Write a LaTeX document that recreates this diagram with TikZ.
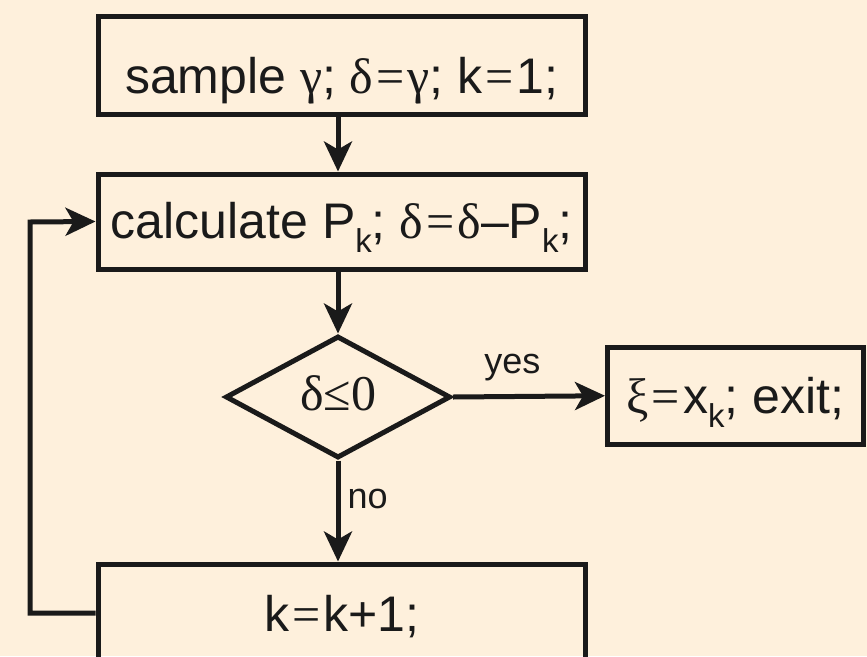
\documentclass[tikz,border=0pt]{standalone}
\usepackage{fontspec}
\setmainfont{Liberation Sans}
\newfontfamily\gk{Liberation Serif}
\usetikzlibrary{arrows.meta,shapes.geometric}
\definecolor{bgc}{HTML}{FEF0DC}
\definecolor{ink}{HTML}{1A1A1A}
\newcommand\subkk{\raisebox{-14pt}{\fontsize{33}{33}\selectfont k}}
\newcommand\eqs{\kern3pt{\gk=}\kern3pt}
\tikzset{
  box/.style={draw=ink, line width=5pt, rectangle, inner sep=0pt, text=ink,
    font=\fontsize{50}{54}\selectfont, text depth=0pt},
  decision/.style={draw=ink, line width=5pt, diamond, inner sep=0pt, text=ink,
    aspect=1.84, minimum width=225pt, minimum height=122pt,
    font=\fontsize{50}{54}\selectfont, text depth=0pt},
  arr/.style={draw=ink, line width=5pt, -{Stealth[length=30pt,width=28pt,inset=8pt]}},
  lbl/.style={text=ink, inner sep=0pt, font=\fontsize{36}{40}\selectfont},
}
\begin{document}
\begin{tikzpicture}[x=1pt,y=-1pt]
\fill[bgc] (0,0) rectangle (867,656);
\useasboundingbox (0,0) rectangle (867,656);
\node[box, minimum width=487.5pt, minimum height=98pt, text height=56pt] (b1) at (341.75,65)
  {sample {\gk γ}; {\gk δ}\eqs{\gk γ}; k\eqs 1;};
\node[box, minimum width=487.5pt, minimum height=95pt, text height=33pt] (b2) at (341.75,221.5)
  {calculate P\subkk; {\gk δ}\eqs{\gk δ}--P\subkk;};
\node[decision, text height=26pt] (d) at (338,397) {\gk δ≤0};
\node[box, minimum width=255.5pt, minimum height=96.5pt, text height=35pt] (ex) at (735.25,395.75)
  {{\gk ξ}\eqs x\subkk; exit;};
\node[box, minimum width=487.5pt, minimum height=98pt, text height=36pt] (b4) at (341.75,613)
  {k\eqs k+1;};
\coordinate (lp1) at (30,613);
\coordinate (lp2) at (30,222);
\draw[arr] (d.north |- b1.south) -- (d.north |- b2.north);
\draw[arr] (d.north |- b2.south) -- (d.north);
\draw[arr] (d.east) -- (ex.west) node[lbl, pos=0.39, above=13pt] (yes) {yes};
\draw[arr] (d.south) -- (d.south |- b4.north) node[lbl, pos=0.38, right=7pt] (no) {no};
\draw[arr] (b4.west) -- (lp1) -- (lp2) -- (b2.west);
\end{tikzpicture}
\end{document}
